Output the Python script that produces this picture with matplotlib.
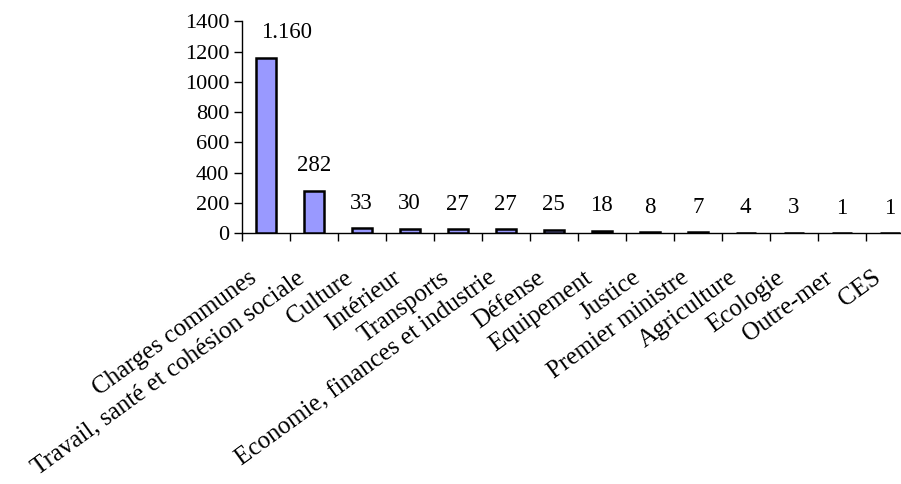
import matplotlib
matplotlib.use("Agg")
import matplotlib.pyplot as plt
import matplotlib.transforms as mtransforms
import numpy as np

# crédits par ministère
ministeres = ["Charges communes", "Travail, santé et cohésion sociale", "Culture",
              "Intérieur", "Transports", "Economie, finances et industrie", "Défense",
              "Equipement", "Justice", "Premier ministre", "Agriculture", "Ecologie",
              "Outre-mer", "CES"]
montants = [1160, 282, 33, 30, 27, 27, 25, 18, 8, 7, 4, 3, 1, 1]
etiquettes = ["1.160", "282", "33", "30", "27", "27", "25", "18", "8", "7", "4", "3", "1", "1"]
yticks = [0, 200, 400, 600, 800, 1000, 1200, 1400]

plt.rcParams["font.family"] = ["Liberation Serif", "DejaVu Serif"]

fig = plt.figure(figsize=(9.01, 4.84), dpi=100)
ax = fig.add_axes([241.7 / 901, 250.7 / 484, 672 / 901, 212 / 484])

x = np.arange(len(ministeres))
ax.bar(x, montants, width=0.42, color="#9999FF", edgecolor="black", linewidth=1.8, zorder=3)

# valeurs au-dessus des barres
for i, (v, t) in enumerate(zip(montants, etiquettes)):
    dx = 15 if i == 0 else 0
    ax.annotate(t, (x[i], v), xytext=(dx, 14), textcoords="offset points",
                ha="center", va="baseline", fontsize=16.5)

ax.set_xlim(-0.5, len(ministeres) - 0.5)
ax.set_ylim(0, 1400)
ax.set_yticks(yticks)
ax.tick_params(axis="y", direction="out", length=6, width=1, labelsize=16, pad=3)

# graduations entre les catégories, étiquettes au centre
ax.set_xticks(x)
ax.set_xticks(np.arange(len(ministeres) + 1) - 0.5, minor=True)
ax.tick_params(axis="x", which="major", length=0, pad=24)
ax.tick_params(axis="x", which="minor", direction="out", length=6, width=1)
ax.set_xticklabels(ministeres, rotation=36, ha="right", va="top", fontsize=18)
decal = mtransforms.ScaledTranslation(-0.05, 0, fig.dpi_scale_trans)
for lab in ax.get_xticklabels():
    lab.set_transform(lab.get_transform() + decal)

for s in ["top", "right"]:
    ax.spines[s].set_visible(False)
ax.spines["left"].set_linewidth(1)
ax.spines["bottom"].set_linewidth(1)

fig.savefig("out.png", dpi=100)
